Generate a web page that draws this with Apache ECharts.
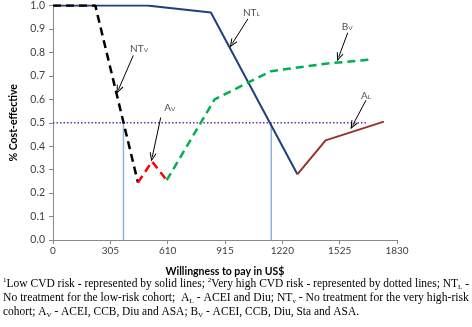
<!DOCTYPE html>
<html>
<head>
<meta charset="utf-8">
<script src="https://cdn.jsdelivr.net/npm/echarts@6/dist/echarts.min.js"></script>
<style>
  html, body { margin: 0; padding: 0; background: #fff; }
  #chart { width: 472px; height: 327px; }
</style>
</head>
<body>
<div id="chart"></div>
<script>
// willingness-to-pay axis ticks and y ticks
const xTicks = [0, 305, 610, 915, 1220, 1525, 1830];
const yTicks = [0, 0.1, 0.2, 0.3, 0.4, 0.5, 0.6, 0.7, 0.8, 0.9, 1.0];

// low risk (solid) curves
const ntL = [[0, 1], [500, 1], [840, 0.97], [1300, 0.28]];
const aL = [[1300, 0.28], [1450, 0.425], [1760, 0.505]];
// very high risk (dashed) curves
const ntV = [[0, 1], [225, 1], [452, 0.245]];
const aV = [[452, 0.245], [527, 0.335], [605, 0.255]];
const bV = [[605, 0.255], [860, 0.6], [1160, 0.72], [1450, 0.752], [1700, 0.77]];

// 50% threshold and where the curves cross it
const threshold = [[0, 0.5], [1665, 0.5]];
const crossings = [375, 1161];

// annotation labels + arrows (data coords)
const notes = [
  { main: 'NT', sub: 'V', at: [458, 0.821], from: [427, 0.787], to: [348, 0.641] },
  { main: 'A', sub: 'V', at: [622, 0.570], from: [573, 0.522], to: [528, 0.354] },
  { main: 'NT', sub: 'L', at: [1055, 0.974], from: [1037, 0.943], to: [953, 0.837] },
  { main: 'B', sub: 'V', at: [1565, 0.915], from: [1568, 0.884], to: [1520, 0.78] },
  { main: 'A', sub: 'L', at: [1665, 0.621], from: [1665, 0.596], to: [1594, 0.489] },
];

// footnote, one entry per printed line
const footLines = [
  '{p|1}{n|Low CVD risk - represented by solid lines; }{p|2}{n|Very high CVD risk - represented by dotted lines; NT}{b|L}{n| -}',
  '{n|No treatment for the low-risk cohort;  A}{b|L}{n| - ACEI and Diu; NT}{b|v}{n| - No treatment for the very high-risk}',
  '{n|cohort; A}{b|V}{n| - ACEI, CCB, Diu and ASA; B}{b|V}{n| - ACEI, CCB, Diu, Sta and ASA.}',
];

const font = 'Lato, "Liberation Sans", sans-serif';
const serif = '"Liberation Serif", "DejaVu Serif", serif';
const arrowHead = 'path://M5,0 L10,9 L8.8,9.6 L5,3 L1.2,9.6 L0,9 Z';

const chart = echarts.init(document.getElementById('chart'));

function lineSeries (data, color, type, width) {
  return {
    type: 'line',
    data: data,
    symbol: 'none',
    silent: true,
    lineStyle: { color: color, width: width || 2, type: type || 'solid', cap: 'butt' },
    z: 3,
  };
}

const series = [];
// vertical drop lines
crossings.forEach((x) => {
  series.push(Object.assign(lineSeries([[x, 0], [x, 0.5]], '#8DB3E2', 'solid', 1.5), { z: 1 }));
});
series.push(Object.assign(lineSeries(threshold, '#7030A0', [1.5, 2], 1.3), { z: 1 }));
series.push(lineSeries(ntL, '#1F3F7F', 'solid', 2));
series.push(lineSeries(aL, '#9B2F2C', 'solid', 2));
series.push(lineSeries(ntV, '#000000', [8, 5], 2.5));
series.push(lineSeries(aV, '#FF0000', [8, 5], 2.5));
series.push(lineSeries(bV, '#00B050', [8, 5], 2.5));

// arrows
series.push({
  type: 'line',
  data: [],
  silent: true,
  markLine: {
    silent: true,
    symbol: ['none', arrowHead],
    symbolSize: [7, 9],
    label: { show: false },
    lineStyle: { color: '#000', width: 1, type: 'solid' },
    data: notes.map((n) => [{ coord: n.from }, { coord: n.to }]),
  },
});
// arrow labels
series.push({
  type: 'scatter',
  symbolSize: 0,
  silent: true,
  data: notes.map((n) => ({ value: n.at, main: n.main, sub: n.sub })),
  label: {
    show: true,
    position: 'inside',
    formatter: (p) => '{m|' + p.data.main + '}{s|' + p.data.sub + '}',
    rich: {
      m: { fontFamily: font, fontSize: 10, color: '#222', verticalAlign: 'bottom', lineHeight: 12 },
      s: { fontFamily: font, fontSize: 6.5, color: '#222', verticalAlign: 'bottom', lineHeight: 9 },
    },
  },
});

// per-line sizes so the justified lines fill the page width
const footSizes = [11.5, 11.65, 11.45];
const footTops = [277, 291.5, 306];
const footGraphics = footLines.map((txt, i) => {
  const fs = footSizes[i];
  return {
    type: 'text',
    left: 3,
    top: footTops[i],
    style: {
      text: txt,
      rich: {
        n: { fontFamily: serif, fontSize: fs, lineHeight: 14, fill: '#000' },
        p: { fontFamily: serif, fontSize: 7, lineHeight: 14, verticalAlign: 'top', fill: '#000' },
        b: { fontFamily: serif, fontSize: 7, lineHeight: 10, verticalAlign: 'bottom', fill: '#000' },
      },
    },
  };
});

const option = {
  animation: false,
  grid: { left: 53, right: 75, top: 5, bottom: 87 },
  xAxis: {
    type: 'value',
    min: xTicks[0],
    max: xTicks[xTicks.length - 1],
    interval: xTicks[1] - xTicks[0],
    name: 'Willingness to pay in US$',
    nameLocation: 'middle',
    nameGap: 26,
    nameTextStyle: { fontFamily: font, fontSize: 10.5, fontWeight: 'bold', color: '#000' },
    axisLine: { lineStyle: { color: '#898989', width: 1 } },
    axisTick: { show: true, length: 4, lineStyle: { color: '#898989' } },
    axisLabel: { fontFamily: font, fontSize: 10, color: '#404040', margin: 6, formatter: (v) => String(v) },
    splitLine: { show: false },
  },
  yAxis: {
    type: 'value',
    min: yTicks[0],
    max: yTicks[yTicks.length - 1],
    interval: 0.1,
    name: '% Cost-effective',
    nameLocation: 'middle',
    nameGap: 32,
    nameTextStyle: { fontFamily: font, fontSize: 10.5, fontWeight: 'bold', color: '#000' },
    axisLine: { show: true, lineStyle: { color: '#898989', width: 1 } },
    axisTick: { show: true, length: 4, lineStyle: { color: '#898989' } },
    axisLabel: { fontFamily: font, fontSize: 10.5, color: '#404040', margin: 8, formatter: (v) => v.toFixed(1) },
    splitLine: { show: false },
  },
  graphic: footGraphics,
  series: series,
};

chart.setOption(option);
</script>
</body>
</html>
